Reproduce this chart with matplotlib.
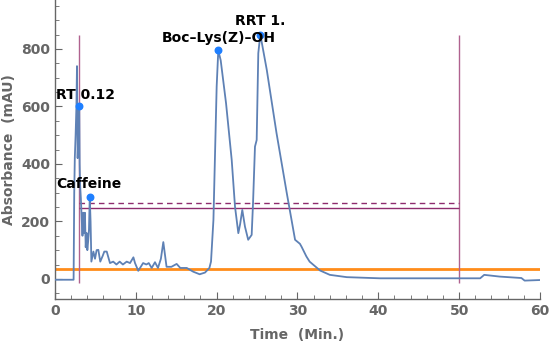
import matplotlib
matplotlib.use("Agg")
import matplotlib.pyplot as plt
from matplotlib.ticker import MultipleLocator

# Chromatogram trace: time (min) and absorbance (mAU)
time_min = [0.0, 2.3, 2.38, 2.45, 2.55, 2.65, 2.72, 2.8, 2.9, 3.0, 3.05, 3.1,
            3.2, 3.3, 3.4, 3.5, 3.6, 3.7, 3.8, 3.9, 4.0, 4.1, 4.2, 4.3, 4.4,
            4.5, 4.75, 4.95, 5.15, 5.36, 5.6, 5.9, 6.1, 6.4, 6.8, 7.2, 7.6,
            8.0, 8.4, 8.87, 9.28, 9.7, 9.9, 10.3, 10.9, 11.3, 11.6, 11.96,
            12.37, 12.74, 13.1, 13.4, 13.8, 14.4, 15.05, 15.5, 16.3, 17.1,
            17.9, 18.56, 19.1, 19.3, 19.6, 20.0, 20.2, 20.5, 21.16, 21.86,
            22.27, 22.68, 22.9, 23.17, 23.5, 23.9, 24.33, 24.5, 24.74, 24.95,
            25.15, 25.4, 26.2, 27.4, 28.67, 29.7, 30.3, 30.5, 31.1, 31.5,
            31.96, 32.8, 34.0, 36.1, 40.2, 45.0, 50.0, 52.6, 53.1, 55.0,
            57.7, 58.1, 60.0]
absorbance = [-3, -3, 300, 420, 500, 600, 740, 420, 520, 600, 400, 330,
              280, 210, 150, 230, 160, 230, 110, 160, 100, 130, 170, 285, 200,
              60, 95, 70, 100, 101, 60, 80, 95, 95, 55, 60, 50,
              60, 50, 60, 55, 75, 55, 28, 55, 50, 55, 38,
              58, 38, 70, 128, 42, 42, 52, 38, 38, 25,
              16, 22, 38, 60, 205, 669, 795, 760, 611, 414,
              251, 159, 190, 240, 182, 136, 153, 264, 460, 483,
              785, 850, 727, 508, 299, 136, 122, 112, 78, 60,
              49, 29, 14, 6, 2, 2, 2, 2, 14, 8,
              3, -6, -4]

# Labelled peaks
peak_labels = ["RT 0.12", "Caffeine", "Boc\u2013Lys(Z)\u2013OH", "RRT 1."]
peak_time = [3.0, 4.3, 20.2, 25.4]
peak_abs = [602, 285, 795, 850]
label_offsets = [(4.5, 2.5), (-0.5, 4.0), (0, 3.5), (0, 5)]

# Reference levels
window_start, window_end = 3.0, 50.0
window_bottom, window_top = -14, 850
threshold_solid = 247
threshold_dashed = 264
baseline_level = 35

fig = plt.figure(figsize=(5.5, 3.44), dpi=100)
ax = fig.add_axes([0.1, 0.1308, 0.8818, 0.8692])

trace_color = "#5E81B5"
purple = "#8E2C6E"

ax.axhline(baseline_level, color="#FF8C1A", lw=2.0, zorder=2)
ax.plot(time_min, absorbance, color=trace_color, lw=1.3, zorder=3)

ax.vlines([window_start, window_end], window_bottom, window_top,
          color="#B0628F", lw=1.0, zorder=2)
ax.hlines(threshold_solid, window_start, window_end, color=purple, lw=1.0, zorder=2)
ax.hlines(threshold_dashed, window_start, window_end, color=purple, lw=1.0,
          linestyles=(0, (4, 3)), zorder=2)

ax.scatter(peak_time, peak_abs, s=22, color="#1E7FFF", zorder=5)
for lab, t, a, off in zip(peak_labels, peak_time, peak_abs, label_offsets):
    ax.annotate(lab, xy=(t, a), xytext=off, textcoords="offset points",
                ha="center", va="bottom", fontsize=10, fontweight="bold",
                color="black", zorder=6)

ax.set_xlim(0, 60)
ax.set_ylim(-70, 970)
ax.xaxis.set_major_locator(MultipleLocator(10))
ax.xaxis.set_minor_locator(MultipleLocator(2))
ax.yaxis.set_major_locator(MultipleLocator(200))
ax.yaxis.set_minor_locator(MultipleLocator(50))

axis_gray = "#666666"
for side in ("top", "right"):
    ax.spines[side].set_visible(False)
for side in ("left", "bottom"):
    ax.spines[side].set_color(axis_gray)
    ax.spines[side].set_linewidth(1.0)
ax.tick_params(which="both", direction="in", color=axis_gray,
               labelcolor=axis_gray, labelsize=10)
ax.tick_params(which="major", length=5)
ax.tick_params(which="minor", length=3)
for lbl in ax.get_xticklabels() + ax.get_yticklabels():
    lbl.set_fontweight("bold")

ax.set_xlabel("Time  (Min.)", fontsize=10, fontweight="bold", color=axis_gray,
              labelpad=7)
ax.set_ylabel("Absorbance  (mAU)", fontsize=10, fontweight="bold", color=axis_gray)

fig.savefig("out.png", dpi=100)
